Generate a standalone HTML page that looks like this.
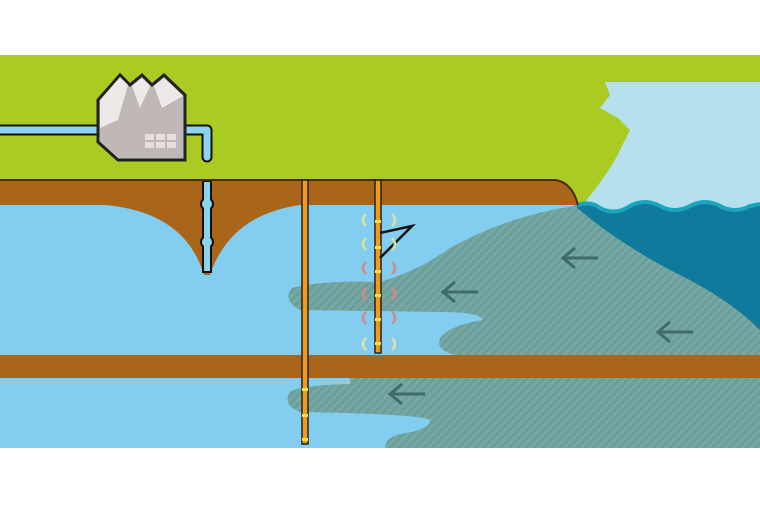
<!DOCTYPE html>
<html><head><style>body{margin:0;background:#fff}svg{display:block}</style></head><body>
<svg width="760" height="506" viewBox="0 0 760 506" xmlns="http://www.w3.org/2000/svg">
<defs>
<pattern id="st" width="6" height="6" patternUnits="userSpaceOnUse" patternTransform="rotate(45)">
<rect width="6" height="6" fill="#6c9e9a"/><rect width="3" height="6" fill="#78a8a3"/></pattern>
<clipPath id="cl"><rect x="0" y="55" width="760" height="393"/></clipPath>
</defs>
<g clip-path="url(#cl)">
<rect x="0" y="55" width="760" height="393" fill="#83cdf0"/>
<rect x="0" y="55" width="760" height="130" fill="#a9cb22"/>
<path d="M560,180 L620,180 L620,206 L576,206 Z" fill="#a9cb22"/>
<!-- sky -->
<path d="M605,82 L760,82 L760,210 L578,210 Q600,185 615,160 L630,130 L618,118 L600,108 L610,95 Z" fill="#b6e0ee"/>
<!-- sea -->
<path d="M575,206 Q590,200 600,208 Q615,216 630,206 Q645,198 660,206 Q675,214 690,206 Q705,198 720,206 Q735,214 750,206 L760,204 L760,340 Q700,300 660,270 Q610,240 575,206 Z" fill="#0f7a9c"/>
<path d="M575,206 Q590,200 600,208 Q615,216 630,206 Q645,198 660,206 Q675,214 690,206 Q705,198 720,206 Q735,214 750,206 L760,204" fill="none" stroke="#1aa6bc" stroke-width="4"/>
<!-- brown top layer -->
<path d="M0,180 L555,180 Q572,182 578,205 L300,205 Q230,215 210,275 L204,275 Q185,212 105,205 L0,205 Z" fill="#a96618"/>
<path d="M0,180 L555,180 Q572,182 578,205" fill="none" stroke="#4a2a08" stroke-width="2"/>
<!-- upper wedge -->
<path d="M575,206 Q620,245 680,275 Q730,300 760,330 L760,355 L455,355 Q435,350 440,338 Q450,325 483,320 Q480,312 440,312 L300,310 Q282,300 292,288 Q320,280 380,282 Q420,270 450,248 Q510,215 575,206 Z" fill="url(#st)"/>
<!-- middle brown layer -->
<rect x="0" y="355" width="760" height="23" fill="#a96618"/>
<!-- lower wedge -->
<path d="M350,378 L760,378 L760,448 L385,448 Q385,438 400,434 Q430,430 430,420 Q420,414 300,412 Q282,405 290,392 Q300,385 350,384 Z" fill="url(#st)"/>
<!-- arrows -->
<g stroke="#3f6b68" stroke-width="3" fill="none">
<path d="M598,258 L565,258 M575,248 L563,258 L575,268"/>
<path d="M478,292 L445,292 M455,282 L443,292 L455,302"/>
<path d="M693,332 L660,332 M670,322 L658,332 L670,342"/>
<path d="M425,394 L392,394 M402,384 L390,394 L402,404"/>
</g>
<!-- factory pipes -->
<path d="M0,130 L110,130" stroke="#111" stroke-width="11" stroke-linecap="round"/>
<path d="M0,130 L110,130" stroke="#8ed3ee" stroke-width="7" stroke-linecap="round"/>
<path d="M180,130 L207,130 L207,157" fill="none" stroke="#111" stroke-width="11" stroke-linejoin="round" stroke-linecap="round"/>
<path d="M180,130 L207,130 L207,157" fill="none" stroke="#8ed3ee" stroke-width="7" stroke-linejoin="round" stroke-linecap="round"/>
<!-- factory -->
<path d="M98,100 L120,75 L130,85 L142,75 L152,85 L164,75 L185,95 L185,160 L118,160 L98,142 Z" fill="#bfb8b6" stroke="#222" stroke-width="3"/>
<path d="M100,100 L120,77 L128,85 L118,120 L100,128 Z M132,86 L142,78 L150,86 L140,108 Z M154,86 L164,78 L183,96 L162,108 Z" fill="#ece9e8"/>
<g fill="#e6dfdd"><rect x="145" y="134" width="9" height="6"/><rect x="156" y="134" width="9" height="6"/><rect x="167" y="134" width="9" height="6"/><rect x="145" y="142" width="9" height="6"/><rect x="156" y="142" width="9" height="6"/><rect x="167" y="142" width="9" height="6"/></g>
<!-- well in arch -->
<rect x="203" y="182" width="8" height="90" fill="#8ed3ee" stroke="#111" stroke-width="2"/>
<circle cx="207" cy="204" r="6" fill="#8ed3ee" stroke="#111" stroke-width="2"/>
<circle cx="207" cy="242" r="6" fill="#8ed3ee" stroke="#111" stroke-width="2"/>
<rect x="204" y="182" width="6" height="88" fill="#8ed3ee"/>
<!-- wells -->
<rect x="302" y="180" width="6" height="264" fill="#f39a1a" stroke="#222" stroke-width="1.5"/>
<g fill="#f1e640"><rect x="302" y="388" width="6" height="3"/><rect x="302" y="414" width="6" height="3"/><rect x="302" y="438" width="6" height="3"/></g>
<rect x="375" y="180" width="6" height="173" fill="#f39a1a" stroke="#222" stroke-width="1.5"/>
<g fill="#f1e640"><rect x="375" y="220" width="6" height="3"/><rect x="375" y="246" width="6" height="3"/><rect x="375" y="270" width="6" height="3"/><rect x="375" y="294" width="6" height="3"/><rect x="375" y="318" width="6" height="3"/><rect x="375" y="342" width="6" height="3"/></g>
<path d="M380,233 L412,226 L380,258" fill="none" stroke="#111" stroke-width="2.5"/>
<!-- waves -->
<g fill="none" stroke-width="2.5">
<g stroke="#d9e4a4"><path d="M366,214 q-6,6 0,12 M392,214 q6,6 0,12 M366,338 q-6,6 0,12 M392,338 q6,6 0,12"/></g>
<g stroke="#d8e29c"><path d="M366,238 q-6,6 0,12 M392,238 q6,6 0,12"/></g>
<g stroke="#d48a8a"><path d="M366,262 q-6,6 0,12 M392,262 q6,6 0,12 M366,288 q-6,6 0,12 M392,288 q6,6 0,12 M366,312 q-6,6 0,12 M392,312 q6,6 0,12"/></g>
</g>
</g>
</svg>
</body></html>
